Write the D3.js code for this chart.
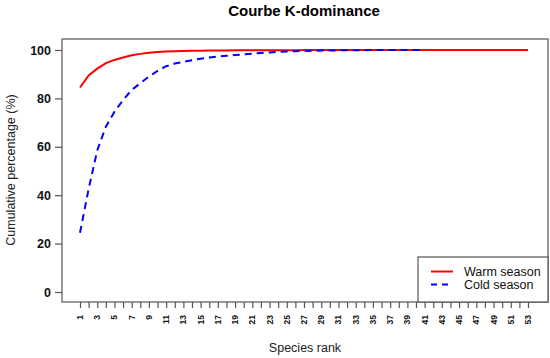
<!DOCTYPE html>
<html>
<head>
<meta charset="utf-8">
<script src="https://cdn.jsdelivr.net/npm/d3@7"></script>
<style>
  body { margin: 0; background: #fff; }
  text { font-family: "Liberation Sans", Arial, sans-serif; }
</style>
</head>
<body>
<div class="myViz"></div>
<script>
// data
var warmRank = d3.range(1, 54);
var warmValues = [84.5, 89.5, 92.3, 94.6, 95.9, 96.9, 97.8, 98.4, 98.9, 99.2,
  99.4, 99.5, 99.6, 99.65, 99.7, 99.75, 99.8, 99.82, 99.85, 99.87,
  99.88, 99.9, 99.91, 99.92, 99.93, 99.94, 99.95, 99.95, 99.96, 99.96,
  99.97, 99.97, 99.98, 99.98, 99.98, 99.99, 99.99, 99.99, 99.99, 99.99,
  100, 100, 100, 100, 100, 100, 100, 100, 100, 100, 100, 100, 100];
var coldRank = d3.range(1, 42);
var coldValues = [24.5, 42.5, 58.5, 68.3, 74.5, 79.3, 83.5, 86.3, 89, 91.4,
  93.3, 94.4, 95.1, 95.8, 96.4, 96.9, 97.3, 97.6, 97.9, 98.2,
  98.5, 98.8, 99, 99.2, 99.4, 99.5, 99.6, 99.7, 99.75, 99.8,
  99.85, 99.9, 99.92, 99.94, 99.96, 99.97, 99.98, 99.99, 100, 100, 100];
var xTicks = d3.range(1, 54, 2);
var yTicks = [0, 20, 40, 60, 80, 100];
var seriesNames = ["Warm season", "Cold season"];
var seriesColors = ["#ff0000", "#0000ff"];

var W = 550, H = 358;
var box = {left: 62, right: 548, top: 39, bottom: 302};

var svg = d3.select(".myViz").append("svg")
  .attr("width", W).attr("height", H);

var x = d3.scaleLinear().domain([1, 53]).range([80, 528]);
var y = d3.scaleLinear().domain([0, 100]).range([292, 50]);

// plot box
svg.append("rect")
  .attr("x", box.left).attr("y", box.top)
  .attr("width", box.right - box.left).attr("height", box.bottom - box.top)
  .attr("fill", "none").attr("stroke", "#555").attr("stroke-width", 1.2);

// y axis
var yAxis = svg.append("g")
  .attr("transform", `translate(${box.left},0)`)
  .call(d3.axisLeft(y).tickValues(yTicks).tickSize(7).tickPadding(4));
yAxis.select(".domain").remove();
yAxis.selectAll("line").attr("stroke", "#555").attr("stroke-width", 1.2);
yAxis.selectAll("text")
  .style("font-size", "12.5px").style("font-weight", "bold").attr("fill", "#111");

// x axis: a tick on every rank, labels on odd ranks
var xAxis = svg.append("g")
  .attr("transform", `translate(0,${box.bottom})`)
  .call(d3.axisBottom(x).tickValues(d3.range(1, 54)).tickSize(6).tickFormat(""));
xAxis.select(".domain").remove();
xAxis.selectAll("line").attr("stroke", "#555").attr("stroke-width", 1.2);

svg.append("g").selectAll("text")
  .data(xTicks)
  .enter().append("text")
  .attr("transform", d => `translate(${x(d) + 3},315) rotate(-90)`)
  .attr("text-anchor", "end")
  .style("font-size", "8.5px").style("font-weight", "bold")
  .attr("fill", "#111")
  .text(d => d);

// lines
var line = d3.line()
  .x(d => x(d[0]))
  .y(d => y(d[1]));

svg.append("path")
  .datum(warmRank.map((r, i) => [r, warmValues[i]]))
  .attr("d", line)
  .attr("fill", "none").attr("stroke", seriesColors[0]).attr("stroke-width", 2);

svg.append("path")
  .datum(coldRank.map((r, i) => [r, coldValues[i]]))
  .attr("d", line)
  .attr("fill", "none").attr("stroke", seriesColors[1]).attr("stroke-width", 2)
  .attr("stroke-dasharray", "7,5");

// titles
svg.append("text")
  .attr("x", 304).attr("y", 15.5)
  .attr("text-anchor", "middle")
  .style("font-size", "15px").style("font-weight", "bold")
  .text("Courbe K-dominance");

svg.append("text")
  .attr("x", 305).attr("y", 352)
  .attr("text-anchor", "middle")
  .style("font-size", "12.5px").attr("fill", "#222")
  .text("Species rank");

svg.append("text")
  .attr("transform", "translate(15,170) rotate(-90)")
  .attr("text-anchor", "middle")
  .style("font-size", "12.5px").attr("fill", "#222")
  .text("Cumulative percentage (%)");

// legend
var legend = svg.append("g");
legend.append("rect")
  .attr("x", 418).attr("y", 257).attr("width", 130).attr("height", 45)
  .attr("fill", "#fff").attr("stroke", "#555").attr("stroke-width", 1.2);
seriesNames.forEach(function(name, i) {
  var ly = 271.5 + i * 13;
  legend.append("line")
    .attr("x1", 431).attr("x2", 453).attr("y1", ly).attr("y2", ly)
    .attr("stroke", seriesColors[i]).attr("stroke-width", 2)
    .attr("stroke-dasharray", i == 1 ? "6,5" : null);
  legend.append("text")
    .attr("x", 464).attr("y", ly + 4.5)
    .style("font-size", "12.5px").attr("fill", "#111")
    .text(name);
});
</script>
</body>
</html>
